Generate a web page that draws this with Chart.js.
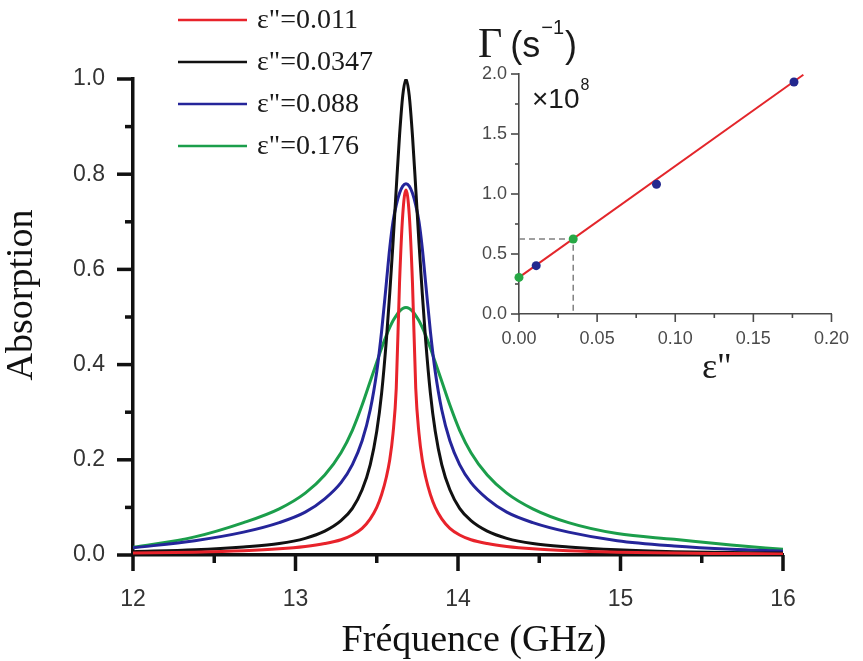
<!DOCTYPE html>
<html>
<head>
<meta charset="utf-8">
<script src="https://cdn.jsdelivr.net/npm/chart.js@4.4.0/dist/chart.umd.min.js"></script>
<style>
  html, body { margin: 0; padding: 0; background: #fff; }
  #wrap { position: relative; width: 863px; height: 661px; }
  #mainChart { position: absolute; left: 0; top: 0; }
  #insetChart { position: absolute; left: 440px; top: 20px; }
</style>
</head>
<body>
<div id="wrap">
  <canvas id="mainChart" width="863" height="661"></canvas>
  <canvas id="insetChart" width="423" height="380"></canvas>
</div>
<script>
// absorption spectra, frequency in GHz
var freq = [12.00, 12.38, 12.68, 12.90, 13.06, 13.18, 13.28, 13.35, 13.41, 13.46, 13.50, 13.53, 13.56, 13.58, 13.60, 13.62, 13.64, 13.66, 13.68,
            13.70, 13.72, 13.74, 13.76, 13.78, 13.80, 13.83, 13.86, 13.90, 13.95, 14.01, 14.08, 14.18, 14.30, 14.46, 14.68, 14.98, 15.33, 15.68, 16.00];
var absRed   = [0.004, 0.006, 0.009, 0.013, 0.018, 0.024, 0.032, 0.042, 0.056, 0.076, 0.10, 0.127, 0.165, 0.20, 0.255, 0.35, 0.57, 0.715, 0.767,
                0.715, 0.57, 0.35, 0.255, 0.20, 0.165, 0.127, 0.10, 0.076, 0.056, 0.042, 0.032, 0.024, 0.018, 0.013, 0.009, 0.006, 0.004, 0.003, 0.002];
var absBlack = [0.007, 0.011, 0.017, 0.024, 0.035, 0.05, 0.072, 0.098, 0.137, 0.19, 0.26, 0.34, 0.455, 0.55, 0.655, 0.77, 0.88, 0.965, 1.0,
                0.965, 0.88, 0.77, 0.655, 0.55, 0.455, 0.34, 0.26, 0.19, 0.137, 0.098, 0.072, 0.05, 0.035, 0.024, 0.017, 0.011, 0.007, 0.005, 0.004];
var absBlue  = [0.015, 0.03, 0.048, 0.068, 0.09, 0.118, 0.152, 0.19, 0.24, 0.305, 0.385, 0.47, 0.575, 0.645, 0.70, 0.735, 0.76, 0.775, 0.78,
                0.775, 0.76, 0.735, 0.70, 0.645, 0.575, 0.47, 0.385, 0.305, 0.24, 0.19, 0.152, 0.118, 0.09, 0.068, 0.048, 0.03, 0.019, 0.012, 0.008];
var absGreen = [0.016, 0.038, 0.068, 0.097, 0.13, 0.168, 0.215, 0.262, 0.315, 0.365, 0.405, 0.435, 0.462, 0.478, 0.492, 0.503, 0.512, 0.518, 0.52,
                0.518, 0.512, 0.503, 0.492, 0.478, 0.462, 0.435, 0.405, 0.365, 0.315, 0.262, 0.215, 0.168, 0.13, 0.097, 0.068, 0.045, 0.033, 0.021, 0.012];
var seriesLabels = ['ε"=0.011', 'ε"=0.0347', 'ε"=0.088', 'ε"=0.176'];

// inset: damping rate (x10^8 s^-1) vs epsilon''
var epsBlue = [0.011, 0.088, 0.176];
var gammaBlue = [0.403, 1.081, 1.933];
var epsGreen = [0, 0.0347];
var gammaGreen = [0.305, 0.625];
var fitEps = [0, 0.182];
var fitGamma = [0.305, 1.994];
var guideEps = [0, 0.0347, 0.0347];
var guideGamma = [0.625, 0.625, 0];

function pts(xs, ys) {
    return xs.map(function (x, i) { return { x: x, y: ys[i] }; });
}

// major + minor tick marks pointing outward
var tickMarks = {
    id: 'tickMarks',
    afterDraw: function (chart, args, o) {
        var ctx = chart.ctx, a = chart.chartArea;
        var xs = chart.scales.x, ys = chart.scales.y;
        ctx.save();
        ctx.strokeStyle = o.color;
        ctx.lineWidth = o.width;
        var n = Math.round((xs.max - xs.min) / o.xMinor);
        for (var i = 0; i <= n; i++) {
            var px = xs.getPixelForValue(xs.min + i * o.xMinor);
            var len = (i % o.xEvery === 0) ? o.major : o.minor;
            ctx.beginPath(); ctx.moveTo(px, a.bottom); ctx.lineTo(px, a.bottom + len); ctx.stroke();
        }
        n = Math.round((ys.max - ys.min) / o.yMinor);
        for (var j = 0; j <= n; j++) {
            var py = ys.getPixelForValue(ys.min + j * o.yMinor);
            var l2 = (j % o.yEvery === 0) ? o.major : o.minor;
            ctx.beginPath(); ctx.moveTo(a.left, py); ctx.lineTo(a.left - l2, py); ctx.stroke();
        }
        ctx.restore();
    }
};

// legend and axis titles of the main plot
var mainText = {
    id: 'mainText',
    afterDraw: function (chart) {
        var ctx = chart.ctx;
        ctx.save();
        chart.data.datasets.forEach(function (ds, i) {
            var y = 20 + i * 42;
            ctx.strokeStyle = ds.borderColor;
            ctx.lineWidth = 2.5;
            ctx.beginPath(); ctx.moveTo(178, y); ctx.lineTo(247, y); ctx.stroke();
            ctx.fillStyle = '#1a1a1a';
            ctx.font = '28px "Liberation Serif", "Times New Roman", serif';
            ctx.textAlign = 'left';
            ctx.textBaseline = 'middle';
            ctx.fillText(ds.label, 257, y + 1);
        });
        ctx.fillStyle = '#111';
        ctx.font = '38px "Liberation Serif", "Times New Roman", serif';
        ctx.textAlign = 'center';
        ctx.textBaseline = 'alphabetic';
        ctx.fillText('Fréquence (GHz)', 474, 651);
        ctx.translate(32, 295);
        ctx.rotate(-Math.PI / 2);
        ctx.fillText('Absorption', 0, 0);
        ctx.restore();
    }
};

// inset labels: Gamma (s^-1), x10^8, epsilon''
var insetText = {
    id: 'insetText',
    afterDraw: function (chart) {
        var ctx = chart.ctx;
        ctx.save();
        ctx.fillStyle = '#1a1a1a';
        ctx.textAlign = 'left';
        ctx.textBaseline = 'alphabetic';
        var x = 38;
        ctx.font = '42px "Liberation Serif", serif';
        ctx.fillText('Γ', x, 37);
        x += ctx.measureText('Γ').width + 8;
        ctx.font = '36px "Liberation Sans", Arial, sans-serif';
        ctx.fillText('(s', x, 37);
        x += ctx.measureText('(s').width + 1;
        ctx.font = '20px "Liberation Sans", Arial, sans-serif';
        ctx.fillText('−1', x, 14);
        x += ctx.measureText('−1').width + 1;
        ctx.font = '36px "Liberation Sans", Arial, sans-serif';
        ctx.fillText(')', x, 37);

        ctx.font = '28px "Liberation Sans", Arial, sans-serif';
        ctx.fillText('×10', 92, 88);
        var wx = ctx.measureText('×10').width;
        ctx.font = '16px "Liberation Sans", Arial, sans-serif';
        ctx.fillText('8', 92 + wx + 1, 70);

        ctx.font = '36px "Liberation Serif", serif';
        ctx.fillText('ε"', 262, 358);
        ctx.restore();
    }
};

var mainColors = ['#e8232b', '#111111', '#25259a', '#1b9e4b'];
var mainSeries = [absRed, absBlack, absBlue, absGreen];

new Chart(document.getElementById('mainChart'), {
    type: 'line',
    data: {
        datasets: mainSeries.map(function (s, i) {
            return {
                label: seriesLabels[i],
                data: pts(freq, s),
                borderColor: mainColors[i],
                borderWidth: 3,
                pointRadius: 0,
                cubicInterpolationMode: 'monotone',
                fill: false
            };
        })
    },
    options: {
        responsive: false,
        animation: false,
        layout: { padding: { left: 0, top: 79, right: 80, bottom: 0 } },
        plugins: {
            legend: { display: false },
            tooltip: { enabled: false },
            tickMarks: { color: '#111', width: 3.5, major: 16, minor: 8, xMinor: 0.5, xEvery: 2, yMinor: 0.1, yEvery: 2 }
        },
        scales: {
            x: {
                type: 'linear', min: 12, max: 16,
                afterFit: function (s) { s.height = 106; },
                grid: { drawOnChartArea: false, drawTicks: false },
                border: { display: true, color: '#111', width: 3.5 },
                ticks: {
                    stepSize: 1, padding: 31, color: '#333',
                    font: { family: '"Liberation Sans", Arial, sans-serif', size: 23 },
                    callback: function (v) { return String(v); }
                }
            },
            y: {
                min: 0, max: 1,
                afterFit: function (s) { s.width = 133; },
                grid: { drawOnChartArea: false, drawTicks: false },
                border: { display: true, color: '#111', width: 3.5 },
                ticks: {
                    stepSize: 0.2, padding: 28, color: '#333',
                    font: { family: '"Liberation Sans", Arial, sans-serif', size: 23 },
                    callback: function (v) { return Number(v).toFixed(1); }
                }
            }
        }
    },
    plugins: [tickMarks, mainText]
});

new Chart(document.getElementById('insetChart'), {
    type: 'line',
    data: {
        datasets: [
            { data: pts(epsBlue, gammaBlue), showLine: false, pointRadius: 4.5, pointBackgroundColor: '#23288f', pointBorderWidth: 0, clip: false },
            { data: pts(epsGreen, gammaGreen), showLine: false, pointRadius: 4.5, pointBackgroundColor: '#27a845', pointBorderWidth: 0, clip: false },
            { data: pts(fitEps, fitGamma), borderColor: '#e3262b', borderWidth: 2, pointRadius: 0, clip: false },
            { data: pts(guideEps, guideGamma), borderColor: '#808080', borderWidth: 1.5, borderDash: [6, 4], pointRadius: 0 }
        ]
    },
    options: {
        responsive: false,
        animation: false,
        layout: { padding: { left: 0, top: 54, right: 22, bottom: 0 } },
        plugins: {
            legend: { display: false },
            tooltip: { enabled: false },
            tickMarks: { color: '#4a4a4a', width: 1.6, major: 8, minor: 4, xMinor: 0.025, xEvery: 2, yMinor: 0.25, yEvery: 2 }
        },
        scales: {
            x: {
                type: 'linear', min: 0, max: 0.2,
                afterFit: function (s) { s.height = 86; },
                grid: { drawOnChartArea: false, drawTicks: false },
                border: { display: true, color: '#4a4a4a', width: 1.6 },
                ticks: {
                    stepSize: 0.05, padding: 14, color: '#4a4a4a',
                    font: { family: '"Liberation Sans", Arial, sans-serif', size: 18 },
                    callback: function (v) { return Number(v).toFixed(2); }
                }
            },
            y: {
                min: 0, max: 2,
                afterFit: function (s) { s.width = 79; },
                grid: { drawOnChartArea: false, drawTicks: false },
                border: { display: true, color: '#4a4a4a', width: 1.6 },
                ticks: {
                    stepSize: 0.5, padding: 12, color: '#4a4a4a',
                    font: { family: '"Liberation Sans", Arial, sans-serif', size: 18 },
                    callback: function (v) { return Number(v).toFixed(1); }
                }
            }
        }
    },
    plugins: [tickMarks, insetText]
});
</script>
</body>
</html>
